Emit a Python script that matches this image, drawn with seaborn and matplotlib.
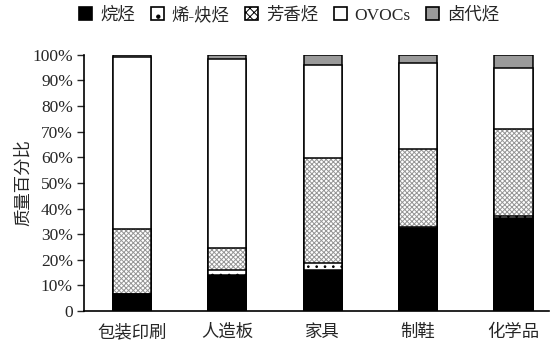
import matplotlib
matplotlib.use("Agg")
import matplotlib.pyplot as plt
from matplotlib.patches import Patch
from matplotlib.ticker import FuncFormatter
import numpy as np
import pandas as pd
import seaborn as sns

# Industry categories and mass fractions (%) of each VOC group
categories = ["包装印刷", "人造板", "家具", "制鞋", "化学品"]
alkanes = [6.5, 14.2, 16.2, 32.6, 36.5]
alkenes_alkynes = [0.3, 1.7, 2.4, 0.3, 0.6]
aromatics = [25.1, 8.6, 41.3, 30.5, 34.1]
ovocs = [67.3, 73.7, 36.3, 33.6, 23.5]
halocarbons = [0.8, 1.8, 3.8, 3.0, 5.3]

series_names = ["烷烃", "烯-炔烃", "芳香烃", "OVOCs", "卤代烃"]
yticks = [0, 10, 20, 30, 40, 50, 60, 70, 80, 90, 100]

sns.set_style("ticks")
plt.rcParams["font.family"] = ["Liberation Serif", "Noto Sans CJK SC"]
plt.rcParams["hatch.linewidth"] = 0.7
plt.rcParams["axes.unicode_minus"] = False

layers = [alkanes, alkenes_alkynes, aromatics, ovocs, halocarbons]
cum = np.cumsum(np.array(layers, dtype=float), axis=0)

# face colour, hatch, hatch colour per layer
styles = [
    ("black", None, "black"),
    ("white", "..", "black"),
    ("white", "xxxxxxx", "#959595"),
    ("white", None, "black"),
    ("#9a9a9a", None, "black"),
]

fig = plt.figure(figsize=(5.51, 3.42), dpi=100)
ax = fig.add_axes([0.1525, 0.0906, 0.8435, 0.749])

width = 0.40
# draw from the top layer down so each lower segment overlays the one above
for i in range(len(layers) - 1, -1, -1):
    face, hatch, hcol = styles[i]
    df = pd.DataFrame({"cat": categories, "val": cum[i]})
    sns.barplot(data=df, x="cat", y="val", ax=ax, color=face, saturation=1,
                errorbar=None, width=width, hatch=hatch, edgecolor=hcol,
                linewidth=0)
    sns.barplot(data=df, x="cat", y="val", ax=ax, fill=False,
                errorbar=None, width=width, edgecolor="black", linewidth=1.1)

ax.set_xlim(-0.503, 4.37)
ax.set_ylim(0, 100)
ax.set_yticks(yticks)
ax.yaxis.set_major_formatter(FuncFormatter(lambda v, p: "0" if v == 0 else f"{v:.0f}%"))
ax.set_xlabel("")
ax.set_ylabel("质量百分比", fontsize=12.5, labelpad=0)
ax.tick_params(axis="y", labelsize=12.5, direction="out", length=5, width=1, pad=3)
ax.tick_params(axis="x", labelsize=12.5, length=0, pad=10)
for s in ["top", "right"]:
    ax.spines[s].set_visible(False)
for s in ["left", "bottom"]:
    ax.spines[s].set_linewidth(1.2)
    ax.spines[s].set_color("black")

legend_styles = [
    ("black", None),
    ("white", "."),
    ("white", "xxxx"),
    ("white", None),
    ("#9a9a9a", None),
]
handles = [Patch(facecolor=f, hatch=h, edgecolor="black", linewidth=1.2)
           for f, h in legend_styles]

fig.legend(handles, series_names, loc="center", bbox_to_anchor=(0.525, 0.955),
           ncol=5, frameon=False, fontsize=12.5, handlelength=0.75,
           handleheight=0.75, handletextpad=0.45, columnspacing=0.9,
           borderaxespad=0)

fig.savefig("out.png", dpi=100)
